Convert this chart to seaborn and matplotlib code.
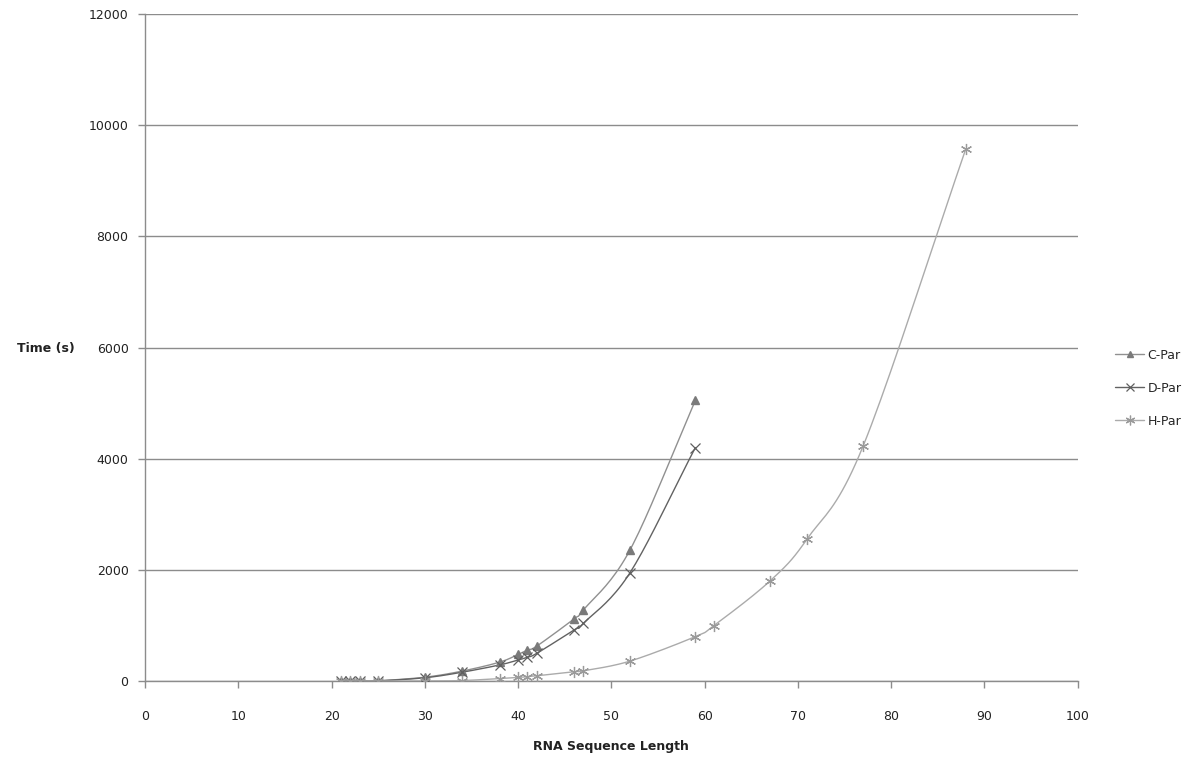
import numpy as np
import pandas as pd
import matplotlib
matplotlib.use("Agg")
import matplotlib.pyplot as plt
import seaborn as sns

# ---- data ----
c_x = [21, 22, 23, 25, 30, 34, 38, 40, 41, 42, 46, 47, 52, 59]
c_y = [3, 3, 3, 5, 70, 180, 340, 480, 560, 630, 1120, 1280, 2360, 5050]
d_x = [21, 22, 23, 25, 30, 34, 38, 40, 41, 42, 46, 47, 52, 59]
d_y = [2, 2, 2, 4, 60, 160, 290, 380, 430, 500, 920, 1040, 1950, 4200]
h_x = [21, 22, 23, 25, 30, 34, 38, 40, 41, 42, 46, 47, 52, 59, 61, 67, 71, 77, 88]
h_y = [0, 0, 0, 1, 3, 10, 45, 65, 80, 95, 170, 185, 360, 800, 1000, 1800, 2560, 4230, 9570]
series_names = ["C-Par", "D-Par", "H-Par"]
x_ticks = list(range(0, 101, 10))
y_ticks = list(range(0, 12001, 2000))

sns.set_theme(style="white")
plt.rcParams["font.family"] = ["DejaVu Sans"]

fig = plt.figure(figsize=(12, 7.61), dpi=100)
ax = fig.add_axes([0.121, 0.105, 0.777, 0.8765])

styles = {
    "C-Par": dict(color="#909090", mcolor="#7a7a7a", marker="^", ms=6, mew=1.0, mfc="#7a7a7a"),
    "D-Par": dict(color="#626262", mcolor="#5f5f5f", marker="x", ms=7, mew=0.9, mfc="none"),
    "H-Par": dict(color="#ababab", mcolor="#9a9a9a", marker=(6, 2, 0), ms=8, mew=0.9, mfc="none"),
}


def smooth_curve(xs, ys, n=20):
    xs = np.asarray(xs, float)
    ys = np.asarray(ys, float)
    px = np.concatenate([[2 * xs[0] - xs[1]], xs, [2 * xs[-1] - xs[-2]]])
    py = np.concatenate([[2 * ys[0] - ys[1]], ys, [2 * ys[-1] - ys[-2]]])
    ox, oy = [], []
    t = np.linspace(0, 1, n, endpoint=False)
    for i in range(1, len(px) - 2):
        p0x, p1x, p2x, p3x = px[i - 1:i + 3]
        p0y, p1y, p2y, p3y = py[i - 1:i + 3]
        k = 1 / 6
        c1x, c1y = p1x + (p2x - p0x) * k, p1y + (p2y - p0y) * k
        c2x, c2y = p2x - (p3x - p1x) * k, p2y - (p3y - p1y) * k
        bx = (1 - t) ** 3 * p1x + 3 * (1 - t) ** 2 * t * c1x + 3 * (1 - t) * t ** 2 * c2x + t ** 3 * p2x
        by = (1 - t) ** 3 * p1y + 3 * (1 - t) ** 2 * t * c1y + 3 * (1 - t) * t ** 2 * c2y + t ** 3 * p2y
        ox.extend(bx)
        oy.extend(by)
    ox.append(xs[-1])
    oy.append(ys[-1])
    return np.array(ox), np.array(oy)


data = {"C-Par": (c_x, c_y), "D-Par": (d_x, d_y), "H-Par": (h_x, h_y)}
handles = []
for name in series_names:
    xs, ys = data[name]
    st = styles[name]
    sx, sy = smooth_curve(xs, ys)
    sns.lineplot(x=sx, y=sy, ax=ax, color=st["color"], lw=1.0, sort=False,
                 estimator=None, legend=False, zorder=3)
    df = pd.DataFrame({"x": xs, "y": ys})
    ax.plot(df["x"], df["y"], ls="none", marker=st["marker"], ms=st["ms"],
            mec=st["mcolor"], mfc=st["mfc"], mew=st["mew"], zorder=4)
    h, = ax.plot([], [], color=st["color"], lw=1.0, marker=st["marker"], ms=st["ms"] - 1,
                 mec=st["mcolor"], mfc=st["mfc"], mew=st["mew"])
    handles.append(h)

ax.set_xlim(0, 100)
ax.set_ylim(0, 12000)
ax.set_xticks(x_ticks)
ax.set_yticks(y_ticks)
ax.yaxis.grid(True, color="#8c8c8c", lw=1.0)
ax.xaxis.grid(False)
for s in ["top", "right"]:
    ax.spines[s].set_visible(False)
for s in ["left", "bottom"]:
    ax.spines[s].set_color("#8c8c8c")
    ax.spines[s].set_linewidth(1.0)
ax.tick_params(axis="both", direction="out", length=5, width=1, color="#8c8c8c",
               labelsize=9, labelcolor="#222222", bottom=True, left=True)
ax.tick_params(axis="x", pad=16)
ax.tick_params(axis="y", pad=7)
ax.set_xlabel("RNA Sequence Length", fontsize=9, fontweight="bold", labelpad=12, color="#222222")
ax.set_ylabel("Time (s)", fontsize=9, fontweight="bold", rotation=0, color="#222222",
              va="center", ha="center")
ax.yaxis.set_label_coords(-0.106, 0.499)

fig.legend(handles, series_names, loc="center left", bbox_to_anchor=(0.92, 0.49),
           frameon=False, fontsize=9, handlelength=2.3, labelspacing=1.6, handletextpad=0.3)

fig.savefig("out.png", dpi=100, facecolor="white")
